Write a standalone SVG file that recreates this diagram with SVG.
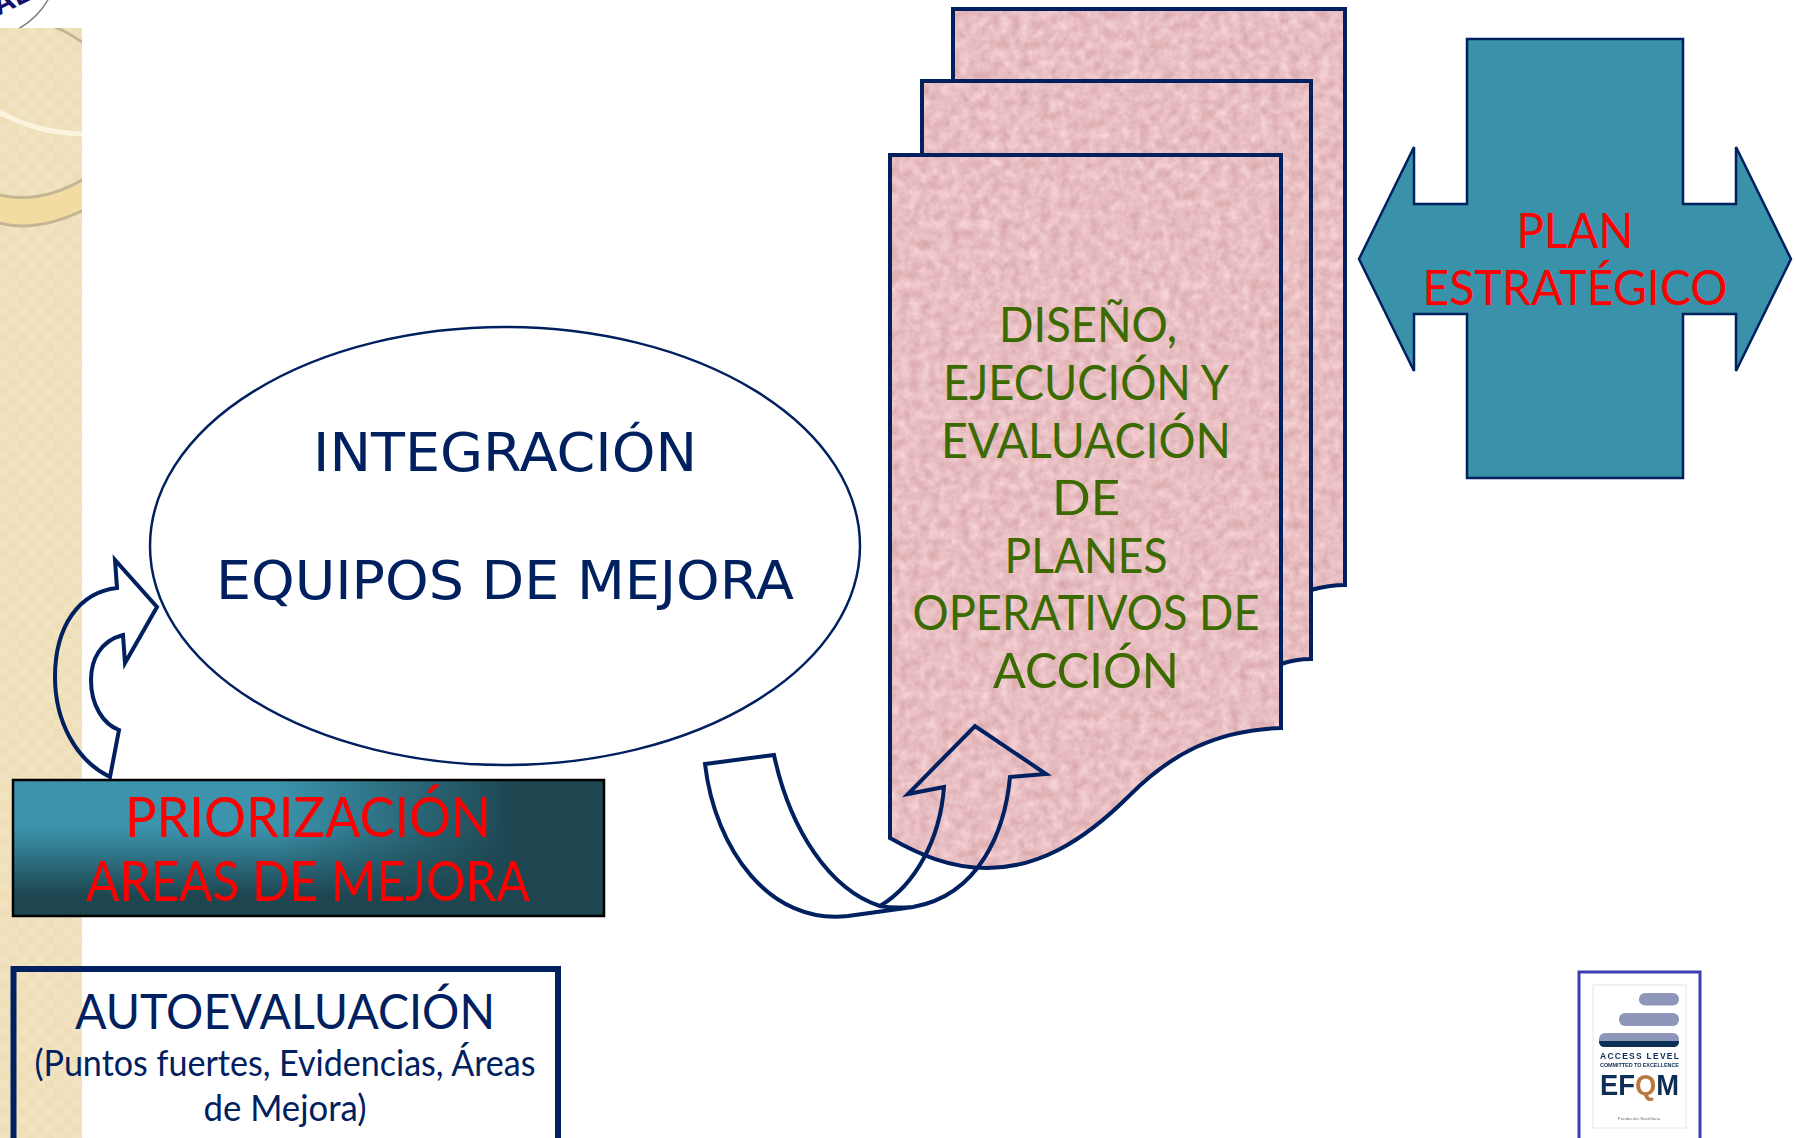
<svg xmlns="http://www.w3.org/2000/svg" width="1796" height="1138" viewBox="0 0 1796 1138">
<style>
.g{font-family:"Lato","Noto Sans",sans-serif;text-anchor:middle}
.v{font-family:"DejaVu Sans",sans-serif;text-anchor:middle;fill:#002060;font-size:54px}
.doc{font-size:48px;fill:#3b6b00}
.red{fill:#ff0000}
.navy{fill:#002060}
.ln{stroke:#002060;stroke-width:4;fill:none;stroke-linejoin:miter}
.thin{stroke:#002060;stroke-width:2.5}
</style>
<defs>
<pattern id="chk" width="18" height="18" patternUnits="userSpaceOnUse"><rect width="18" height="18" fill="#efdfb9"/><rect width="9" height="9" fill="#f1e2c0"/><rect x="9" y="9" width="9" height="9" fill="#f1e2c0"/></pattern>
<filter id="paper" x="0" y="0" width="1" height="1" color-interpolation-filters="sRGB"><feTurbulence type="fractalNoise" baseFrequency="0.1" numOctaves="4" seed="4"/><feColorMatrix values=".16 0 0 0 .83 .24 0 0 0 .625 .24 0 0 0 .64 0 0 0 0 1"/><feComposite in2="SourceGraphic" operator="in"/></filter>
<filter id="soft"><feGaussianBlur stdDeviation=".45"/></filter>
<linearGradient id="gh"><stop offset=".45" stop-color="#1d4650" stop-opacity="0"/><stop offset=".85" stop-color="#1d4650"/></linearGradient>
<linearGradient id="gv" x2="0" y2="1"><stop offset=".35" stop-color="#1d4650" stop-opacity="0"/><stop offset=".85" stop-color="#1d4650"/></linearGradient>
<clipPath id="bandclip"><rect x="0" y="28" width="82" height="1110"/></clipPath>
<clipPath id="sealclip"><rect width="60" height="28"/></clipPath>
</defs>
<rect width="1796" height="1138" fill="#fff"/>
<g id="background-band">
<rect x="0" y="28" width="82" height="1110" fill="url(#chk)"/>
<g clip-path="url(#bandclip)">
<path d="M-10 220C20 232 55 225 90 207L90 175C55 198 20 203 -10 192Z" fill="#f2dca2"/>
<path d="M-10 192C20 203 55 198 90 175M-10 220C20 232 55 225 90 207M55 27C65 31 75 36 90 48" fill="none" stroke="#c4b594" stroke-width="3"/>
<path d="M-5 110C25 126 50 134 90 134" fill="none" stroke="#fbf3df" stroke-width="5"/>
</g>
</g>
<g id="seal" clip-path="url(#sealclip)">
<circle cx="-18" cy="-38" r="76" fill="#fff" stroke="#777" stroke-width="1.5"/>
<text x="-2" y="16" transform="rotate(-26 -2 16)" style="font-family:'Liberation Sans',sans-serif;font-weight:700;font-size:30px" fill="#12126a">AL</text>
</g>
<g id="doc-back"><path filter="url(#paper)" d="M953 9H1345V585C1333 585 1322 587 1311 590L953 590Z" fill="#000"/><path class="ln" d="M953 590V9H1345V585C1333 585 1322 587 1311 590"/></g>
<g id="doc-middle"><path filter="url(#paper)" d="M922 81H1311V659C1300 659 1290 661 1281 664L922 664Z" fill="#000"/><path class="ln" d="M922 300V81H1311V659C1300 659 1290 661 1281 664"/></g>
<g id="doc-front"><path filter="url(#paper)" d="M890 155H1281V728C1215 730 1170 755 1130 795C1080 845 1035 868 987 868C950 868 920 855 890 838Z" fill="#000"/><path class="ln" d="M890 155H1281V728C1215 730 1170 755 1130 795C1080 845 1035 868 987 868C950 868 920 855 890 838Z"/>
<g class="g doc">
<text x="1088" y="342" textLength="178" lengthAdjust="spacingAndGlyphs">DISEÑO,</text>
<text x="1086" y="400" textLength="286" lengthAdjust="spacingAndGlyphs">EJECUCIÓN Y</text>
<text x="1086" y="458" textLength="290" lengthAdjust="spacingAndGlyphs">EVALUACIÓN</text>
<text x="1086" y="515" textLength="68" lengthAdjust="spacingAndGlyphs">DE</text>
<text x="1086" y="573" textLength="163" lengthAdjust="spacingAndGlyphs">PLANES</text>
<text x="1086" y="630" textLength="347" lengthAdjust="spacingAndGlyphs">OPERATIVOS DE</text>
<text x="1086" y="688" textLength="186" lengthAdjust="spacingAndGlyphs">ACCIÓN</text>
</g></g>
<g id="plan-estrategico">
<path class="thin" fill="#3a92aa" d="M1467 39H1683V204H1736V147L1791 259L1736 371V314H1683V478H1467V314H1414V371L1359 259L1414 147V204H1467Z"/>
<g class="g red" font-size="48"><text x="1575" y="248" textLength="117" lengthAdjust="spacingAndGlyphs">PLAN</text><text x="1575" y="305" textLength="305" lengthAdjust="spacingAndGlyphs">ESTRATÉGICO</text></g>
</g>
<g id="integracion">
<ellipse class="thin" cx="505" cy="546" rx="355" ry="219" fill="#fff"/>
<text class="v" x="505" y="471" textLength="384" lengthAdjust="spacingAndGlyphs">INTEGRACIÓN</text>
<text class="v" x="505" y="599" textLength="578" lengthAdjust="spacingAndGlyphs">EQUIPOS DE MEJORA</text>
</g>
<g id="priorizacion">
<rect x="13" y="780" width="591" height="136" fill="#3b93ac"/>
<rect x="13" y="780" width="591" height="136" fill="url(#gh)"/>
<rect x="13" y="780" width="591" height="136" fill="url(#gv)"/>
<rect x="13" y="780" width="591" height="136" fill="none" stroke="#000" stroke-width="2.5"/>
<g class="g red" font-size="56"><text x="308" y="837" textLength="366" lengthAdjust="spacingAndGlyphs">PRIORIZACIÓN</text><text x="308" y="901" textLength="444" lengthAdjust="spacingAndGlyphs">AREAS DE MEJORA</text></g>
</g>
<g id="autoevaluacion">
<path d="M13.500 1150V969H558V1150" fill="none" stroke="#002060" stroke-width="6"/>
<g class="g navy"><text x="285" y="1029" font-size="48" textLength="420" lengthAdjust="spacingAndGlyphs">AUTOEVALUACIÓN</text>
<text x="285" y="1076" font-size="36" textLength="501" lengthAdjust="spacingAndGlyphs">(Puntos fuertes, Evidencias, Áreas</text>
<text x="285" y="1121" font-size="36" textLength="163" lengthAdjust="spacingAndGlyphs">de Mejora)</text></g>
</g>
<g id="efqm-logo">
<rect x="1579" y="972" width="121" height="180" fill="#fff" stroke="#3a3fb0" stroke-width="3"/>
<g filter="url(#soft)">
<rect x="1593" y="985" width="93" height="143" fill="#fff" stroke="#e6e6e6"/>
<rect x="1639" y="993" width="40" height="12.500" rx="6" fill="#8e97ba"/>
<rect x="1619" y="1013" width="60" height="13" rx="6" fill="#8e97ba"/>
<rect x="1599" y="1033" width="80" height="14" rx="6" fill="#8e97ba"/>
<path d="M1599 1041H1679C1679 1045 1677 1047 1673 1047H1605C1601 1047 1599 1045 1599 1041Z" fill="#0f2f55"/>
<g style="font-family:'Liberation Sans',sans-serif;font-weight:700" fill="#0f2f55">
<text x="1600" y="1059" font-size="8.500" textLength="79">ACCESS LEVEL</text>
<text x="1600" y="1067" font-size="5.500" textLength="79">COMMITTED TO EXCELLENCE</text>
<text x="1600" y="1095" font-size="30" textLength="79" lengthAdjust="spacingAndGlyphs">EF<tspan fill="#b8793a">Q</tspan>M</text>
<text x="1618" y="1120" font-size="4" font-weight="400" fill="#666" textLength="42">Fundación Santillana</text>
</g>
</g>
</g>
<g id="connectors">
<path class="ln" d="M117 588L115 560L157 607L125 663L123 635C100 641 91 660 91 680C91 705 103 724 119 730L110 777C75 760 55 720 55 677C55 625 80 592 117 588Z"/>
<path class="ln" d="M705 764L774 755C790 830 830 890 880 906C915 885 940 840 944 787L908 794L975 726L1046 774L1010 777C1005 830 980 895 913 907L848 916C770 925 715 850 705 764ZM880 906C890 908 900 908 913 907"/>
</g>
</svg>
